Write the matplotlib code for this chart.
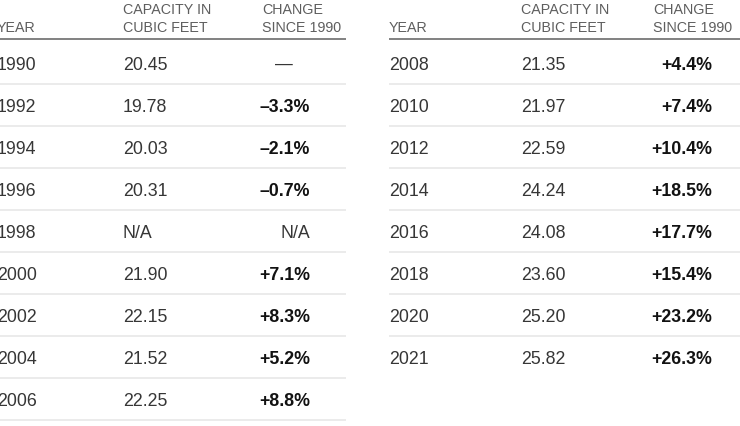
import matplotlib
matplotlib.use("Agg")
import matplotlib.pyplot as plt

# ---- data ----
years = [1990, 1992, 1994, 1996, 1998, 2000, 2002, 2004, 2006,
         2008, 2010, 2012, 2014, 2016, 2018, 2020, 2021]
capacity = [20.45, 19.78, 20.03, 20.31, None, 21.90, 22.15, 21.52, 22.25,
            21.35, 21.97, 22.59, 24.24, 24.08, 23.60, 25.20, 25.82]
change = [None, -3.3, -2.1, -0.7, None, 7.1, 8.3, 5.2, 8.8,
          4.4, 7.4, 10.4, 18.5, 17.7, 15.4, 23.2, 26.3]
col_headers = ["YEAR", "CAPACITY IN\nCUBIC FEET", "CHANGE\nSINCE 1990"]
rows_left = 9

plt.rcParams['font.family'] = ['Liberation Sans', 'DejaVu Sans']

W, H = 740, 426
fig = plt.figure(figsize=(W / 100, H / 100), dpi=100)
ax = fig.add_axes([0, 0, 1, 1])
ax.set_xlim(0, W)
ax.set_ylim(H, 0)
ax.axis('off')

HEAD_C = '#5e5e5e'
BODY_C = '#363636'
BOLD_C = '#121212'
RULE_C = '#5f5f5f'
SEP_C = '#e6e6e6'
FS_BODY = 12.8
FS_HEAD = 10.3

tables = [
    dict(yx=-3, cx=123, chx=262, crx=310, x0=-3, x1=346, rows=list(range(0, rows_left)), last_sep=True),
    dict(yx=389, cx=521, chx=653, crx=712, x0=389, x1=745, rows=list(range(rows_left, len(years))), last_sep=False),
]


def fmt_change(v, idx):
    if idx == 0:
        return None
    if v is None:
        return 'N/A'
    sign = '+' if v >= 0 else '\u2013'
    return f"{sign}{abs(v):.1f}%"


for t in tables:
    ax.text(t['yx'], 32.5, col_headers[0], color=HEAD_C, fontsize=FS_HEAD, va='baseline', ha='left')
    for x, hdr in ((t['cx'], col_headers[1]), (t['chx'], col_headers[2])):
        l1, l2 = hdr.split('\n')
        ax.text(x, 14.5, l1, color=HEAD_C, fontsize=FS_HEAD, va='baseline', ha='left')
        ax.text(x, 32.5, l2, color=HEAD_C, fontsize=FS_HEAD, va='baseline', ha='left')
    ax.plot([t['x0'], t['x1']], [39, 39], color=RULE_C, lw=1.1, solid_capstyle='butt')

    n = len(t['rows'])
    for k, i in enumerate(t['rows']):
        base = 70.5 + 42 * k
        ax.text(t['yx'], base, str(years[i]), color=BODY_C, fontsize=FS_BODY, va='baseline', ha='left')
        cap = capacity[i]
        ax.text(t['cx'], base, 'N/A' if cap is None else f"{cap:.2f}",
                color=BODY_C, fontsize=FS_BODY, va='baseline', ha='left')
        s = fmt_change(change[i], i)
        if s is None:
            ax.text(284, base - 6.5, '\u2014', color=BODY_C, fontsize=FS_BODY, va='center', ha='center')
        elif s == 'N/A':
            ax.text(t['crx'], base, s, color=BODY_C, fontsize=FS_BODY, va='baseline', ha='right')
        else:
            ax.text(t['crx'], base, s, color=BOLD_C, fontsize=FS_BODY, fontweight='bold',
                    va='baseline', ha='right')
        if k < n - 1 or t['last_sep']:
            ys = 84 + 42 * k
            ax.plot([t['x0'], t['x1']], [ys, ys], color=SEP_C, lw=1.1, solid_capstyle='butt')

fig.savefig('out.png', dpi=100, facecolor='white')
